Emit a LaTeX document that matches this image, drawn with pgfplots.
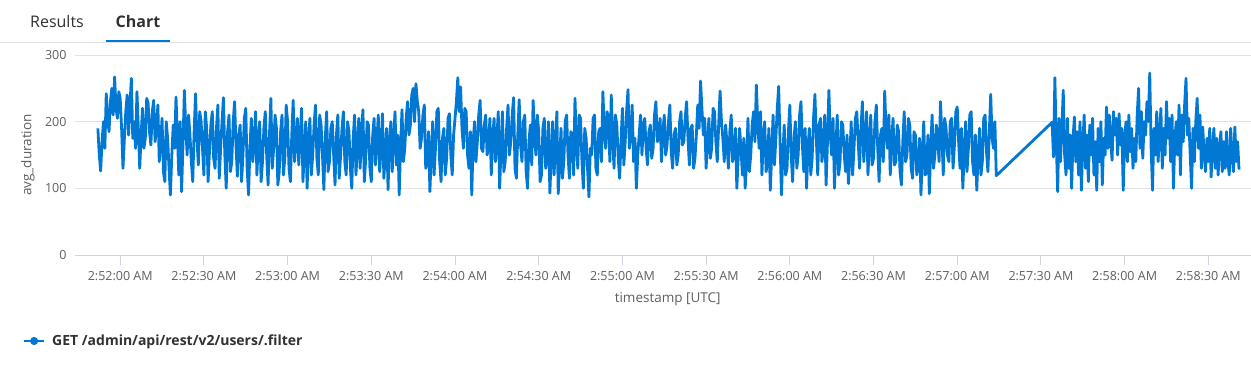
\documentclass[border=0pt]{standalone}
\usepackage{fontspec}
\setmainfont{Open Sans}
\usepackage{pgfplots}
\pgfplotsset{compat=1.18}
\definecolor{azure}{RGB}{0,120,212}
\definecolor{gridgray}{RGB}{226,226,226}
\definecolor{axisblue}{RGB}{204,212,228}
\definecolor{tickgray}{RGB}{96,94,92}
\definecolor{darktext}{RGB}{50,49,48}
\begin{document}
\begin{tikzpicture}[x=1pt,y=1pt]
\useasboundingbox (0,0) rectangle (1251,368);
% header tabs
\draw[gridgray, line width=1pt] (0,325.2) -- (1251,325.2);
\draw[azure, line width=2pt] (106,327.2) -- (170,327.2);
\node[font=\fontsize{16}{18}\selectfont, text=darktext, anchor=base] at (57,340.5) {Results};
\node[font=\fontsize{16}{18}\selectfont\bfseries, text=darktext, anchor=base] at (138,340.5) {Chart};
\begin{axis}[
  at={(75pt,113pt)}, anchor=south west,
  scale only axis, width=1176pt, height=200pt,
  xmin=-16.2, xmax=405.3, ymin=0, ymax=300,
  axis lines*=left,
  y axis line style={draw=none},
  x axis line style={draw=axisblue, line width=1pt, -},
  ytick={0,100,200,300},
  ytick style={draw=none},
  ymajorgrids, grid style={gridgray, line width=1pt},
  xtick={0,30,...,390},
  xticklabels={2:52:00 AM,2:52:30 AM,2:53:00 AM,2:53:30 AM,2:54:00 AM,2:54:30 AM,2:55:00 AM,2:55:30 AM,2:56:00 AM,2:56:30 AM,2:57:00 AM,2:57:30 AM,2:58:00 AM,2:58:30 AM},
  xtick style={draw=axisblue, line width=1pt},
  tick align=outside, major tick length=10pt,
  /pgf/number format/assume math mode=true,
  tick label style={font=\fontsize{12.5}{14}\selectfont, text=tickgray},
  xticklabel style={yshift=-3pt},
  yticklabel style={xshift=5pt},
  xlabel={timestamp [UTC]}, ylabel={avg\_duration},
  every axis x label/.style={at={(axis description cs:0.504,-0.2215)}, anchor=center, font=\fontsize{13.5}{15}\selectfont, text=tickgray},
  every axis y label/.style={at={(axis description cs:-0.04,0.5)}, rotate=90, anchor=center, font=\fontsize{13.5}{15}\selectfont, text=tickgray},
  legend style={at={(axis description cs:-0.0442,-0.43)}, anchor=west, draw=none, fill=none,
    inner sep=0pt, outer sep=0pt, nodes={inner sep=0pt, font=\fontsize{14}{16}\selectfont\bfseries, text=darktext}, column sep=7pt},
  legend cell align=left,
  legend image code/.code={\draw[azure, line width=2.2pt] (0pt,0pt) -- (20pt,0pt); \fill[azure] (10pt,0pt) circle (2.6pt);},
  clip=false,
]
\addplot[azure, line width=2.8pt, line join=round, mark=none] coordinates {
(-8,190)(-7.5,150)(-7,126)(-6.5,170)(-6,200)(-5.5,160)(-5,242)(-4.5,205)(-4,185)(-3.5,230)
(-3,250)(-2.5,210)(-2,267)(-1.5,220)(-1,205)(-0.5,245)(0,235)(0.5,190)(1,130)(1.5,175)
(2,215)(2.5,240)(3,180)(3.5,225)(4,265)(4.5,175)(5,200)(5.5,160)(6,245)(6.5,190)
(7,130)(7.5,180)(8,220)(8.5,160)(9,175)(9.5,235)(10,228)(10.5,185)(11,165)(11.5,215)
(12,232)(12.5,170)(13,190)(13.5,225)(14,140)(14.5,170)(15,205)(15.5,125)(16,110)(16.5,200)
(17,175)(17.5,130)(18,90)(18.5,150)(19,195)(19.5,160)(20,237)(20.5,180)(21,120)(21.5,200)
(22,95)(22.5,165)(23,247)(23.5,190)(24,150)(24.5,210)(25,180)(25.5,140)(26,110)(26.5,185)
(27,242)(27.5,175)(28,135)(28.5,215)(29,200)(29.5,160)(30,120)(30.5,215)(31,190)(31.5,110)
(32,155)(32.5,195)(33,215)(33.5,145)(34,130)(34.5,190)(35,225)(35.5,115)(36,160)(36.5,200)
(37,236)(37.5,150)(38,100)(38.5,185)(39,210)(39.5,125)(40,140)(40.5,200)(41,230)(41.5,165)
(42,118)(42.5,180)(43,195)(43.5,110)(44,150)(44.5,205)(45,220)(45.5,130)(46,90)(46.5,160)
(47,205)(47.5,140)(48,165)(48.5,215)(49,120)(49.5,170)(50,200)(50.5,110)(51,140)(51.5,190)
(52,215)(52.5,150)(53,105)(53.5,180)(54,235)(54.5,130)(55,160)(55.5,210)(56,190)(56.5,105)
(57,125)(57.5,185)(58,210)(58.5,120)(59,145)(59.5,225)(60,200)(60.5,130)(61,110)(61.5,180)
(62,232)(62.5,140)(63,170)(63.5,205)(64,135)(64.5,175)(65,220)(65.5,110)(66,155)(66.5,200)
(67,100)(67.5,170)(68,205)(68.5,120)(69,150)(69.5,195)(70,225)(70.5,145)(71,120)(71.5,210)
(72,195)(72.5,150)(73,98)(73.5,175)(74,215)(74.5,125)(75,140)(75.5,190)(76,200)(76.5,150)
(77,105)(77.5,180)(78,210)(78.5,115)(79,150)(79.5,190)(80,215)(80.5,140)(81,120)(81.5,200)
(82,185)(82.5,130)(83,100)(83.5,175)(84,210)(84.5,120)(85,160)(85.5,205)(86,130)(86.5,185)
(87,218)(87.5,110)(88,145)(88.5,200)(89,195)(89.5,130)(90,110)(90.5,180)(91,205)(91.5,135)
(92,170)(92.5,210)(93,125)(93.5,160)(94,212)(94.5,115)(95,150)(95.5,190)(96,98)(96.5,170)
(97,200)(97.5,125)(98,175)(98.5,215)(99,135)(99.5,180)(100,90)(100.5,165)(101,218)(101.5,140)
(102,160)(102.5,205)(103,230)(103.5,180)(104,195)(104.5,240)(105,250)(105.5,200)(106,257)(106.5,230)
(107,215)(107.5,160)(108,175)(108.5,210)(109,225)(109.5,130)(110,140)(110.5,185)(111,95)(111.5,150)
(112,200)(112.5,120)(113,160)(113.5,215)(114,220)(114.5,140)(115,110)(115.5,175)(116,190)(116.5,120)
(117,145)(117.5,205)(118,212)(118.5,150)(119,120)(119.5,180)(120,205)(120.5,230)(121,266)(121.5,215)
(122,252)(122.5,190)(123,160)(123.5,220)(124,215)(124.5,150)(125,130)(125.5,185)(126,90)(126.5,170)
(127,200)(127.5,140)(128,170)(128.5,210)(129,232)(129.5,160)(130,155)(130.5,195)(131,210)(131.5,150)
(132,160)(132.5,205)(133,120)(133.5,175)(134,205)(134.5,140)(135,175)(135.5,215)(136,100)(136.5,160)
(137,215)(137.5,125)(138,140)(138.5,190)(139,225)(139.5,150)(140,170)(140.5,210)(141,236)(141.5,130)
(142,115)(142.5,180)(143,233)(143.5,165)(144,140)(144.5,200)(145,210)(145.5,125)(146,100)(146.5,170)
(147,195)(147.5,135)(148,232)(148.5,180)(149,150)(149.5,210)(150,185)(150.5,110)(151,120)(151.5,190)
(152,205)(152.5,130)(153,145)(153.5,200)(154,93)(154.5,150)(155,200)(155.5,120)(156,160)(156.5,215)
(157,92)(157.5,140)(158,190)(158.5,115)(159,140)(159.5,200)(160,210)(160.5,150)(161,115)(161.5,185)
(162,180)(162.5,120)(163,235)(163.5,170)(164,130)(164.5,210)(165,205)(165.5,140)(166,100)(166.5,190)
(167,175)(167.5,130)(168,87)(168.5,160)(169,150)(169.5,205)(170,210)(170.5,130)(171,120)(171.5,185)
(172,190)(172.5,140)(173,245)(173.5,190)(174,160)(174.5,215)(175,205)(175.5,140)(176,240)(176.5,175)
(177,130)(177.5,210)(178,195)(178.5,145)(179,115)(179.5,170)(180,220)(180.5,135)(181,170)(181.5,215)
(182,248)(182.5,160)(183,185)(183.5,225)(184,140)(184.5,175)(185,100)(185.5,150)(186,180)(186.5,210)
(187,150)(187.5,195)(188,205)(188.5,160)(189,135)(189.5,185)(190,195)(190.5,145)(191,160)(191.5,210)
(192,230)(192.5,170)(193,175)(193.5,205)(194,140)(194.5,185)(195,210)(195.5,150)(196,165)(196.5,200)
(197,225)(197.5,155)(198,130)(198.5,180)(199,190)(199.5,135)(200,150)(200.5,200)(201,215)(201.5,165)
(202,170)(202.5,205)(203,230)(203.5,175)(204,135)(204.5,190)(205,195)(205.5,130)(206,145)(206.5,180)
(207,225)(207.5,190)(208,261)(208.5,220)(209,180)(209.5,205)(210,130)(210.5,170)(211,205)(211.5,145)
(212,160)(212.5,220)(213,215)(213.5,170)(214,140)(214.5,195)(215,246)(215.5,200)(216,175)(216.5,140)
(217,195)(217.5,165)(218,130)(218.5,185)(219,210)(219.5,140)(220,150)(220.5,190)(221,100)(221.5,145)
(222,190)(222.5,160)(223,120)(223.5,175)(224,100)(224.5,140)(225,205)(225.5,125)(226,150)(226.5,195)
(227,215)(227.5,170)(228,255)(228.5,200)(229,160)(229.5,215)(230,120)(230.5,175)(231,200)(231.5,125)
(232,140)(232.5,190)(233,97)(233.5,150)(234,210)(234.5,135)(235,175)(235.5,220)(236,253)(236.5,170)
(237,90)(237.5,150)(238,195)(238.5,120)(239,130)(239.5,185)(240,225)(240.5,150)(241,110)(241.5,175)
(242,200)(242.5,130)(243,150)(243.5,210)(244,230)(244.5,165)(245,125)(245.5,190)(246,100)(246.5,160)
(247,190)(247.5,120)(248,145)(248.5,205)(249,241)(249.5,175)(250,120)(250.5,195)(251,205)(251.5,140)
(252,160)(252.5,210)(253,105)(253.5,170)(254,247)(254.5,180)(255,150)(255.5,205)(256,100)(256.5,160)
(257,210)(257.5,120)(258,140)(258.5,200)(259,195)(259.5,150)(260,125)(260.5,180)(261,107)(261.5,145)
(262,200)(262.5,120)(263,160)(263.5,205)(264,215)(264.5,170)(265,130)(265.5,190)(266,230)(266.5,140)
(267,175)(267.5,215)(268,120)(268.5,165)(269,210)(269.5,135)(270,145)(270.5,200)(271,225)(271.5,160)
(272,110)(272.5,180)(273,190)(273.5,140)(274,246)(274.5,185)(275,160)(275.5,210)(276,120)(276.5,170)
(277,205)(277.5,135)(278,140)(278.5,195)(279,185)(279.5,125)(280,105)(280.5,170)(281,215)(281.5,140)
(282,150)(282.5,205)(283,195)(283.5,130)(284,115)(284.5,185)(285,180)(285.5,120)(286,135)(286.5,175)
(287,90)(287.5,150)(288,200)(288.5,120)(289,125)(289.5,180)(290,92)(290.5,160)(291,210)(291.5,130)
(292,150)(292.5,195)(293,175)(293.5,140)(294,230)(294.5,180)(295,120)(295.5,205)(296,190)(296.5,150)
(297,140)(297.5,200)(298,205)(298.5,130)(299,165)(299.5,215)(300,222)(300.5,170)(301,130)(301.5,190)
(302,100)(302.5,150)(303,200)(303.5,125)(304,160)(304.5,210)(305,215)(305.5,140)(306,120)(306.5,180)
(307,97)(307.5,150)(308,190)(308.5,120)(309,140)(309.5,205)(310,210)(310.5,155)(311,125)(311.5,185)
(312,241)(312.5,175)(313,160)(313.5,200)(314,119)
(334,199)(334.5,147)(335,266)(335.5,170)(336,95)(336.5,205)(337,140)(337.5,190)(338,247)(338.5,150)
(339,120)(339.5,205)(340,130)(340.5,180)(341,100)(341.5,175)(342,207)(342.5,140)(343,185)(343.5,120)
(344,200)(344.5,97)(345,165)(345.5,210)(346,130)(346.5,180)(347,110)(347.5,195)(348,150)(348.5,205)
(349,120)(349.5,170)(350,97)(350.5,190)(351,140)(351.5,200)(352,105)(352.5,175)(353,150)(353.5,222)
(354,160)(354.5,210)(355,170)(355.5,142)(356,215)(356.5,180)(357,205)(357.5,150)(358,212)(358.5,165)
(359,190)(359.5,97)(360,175)(360.5,200)(361,140)(361.5,210)(362,155)(362.5,190)(363,130)(363.5,175)
(364,140)(364.5,210)(365,250)(365.5,160)(366,215)(366.5,145)(367,200)(367.5,180)(368,230)(368.5,200)
(369,273)(369.5,160)(370,97)(370.5,190)(371,150)(371.5,215)(372,140)(372.5,180)(373,220)(373.5,130)
(374,190)(374.5,150)(375,230)(375.5,175)(376,205)(376.5,140)(377,210)(377.5,100)(378,175)(378.5,200)
(379,150)(379.5,225)(380,120)(380.5,210)(381,170)(381.5,225)(382,265)(382.5,180)(383,205)(383.5,150)
(384,100)(384.5,190)(385,140)(385.5,200)(386,235)(386.5,160)(387,210)(387.5,130)(388,192)(388.5,150)
(389,125)(389.5,175)(390,140)(390.5,190)(391,117)(391.5,160)(392,190)(392.5,130)(393,175)(393.5,120)
(394,160)(394.5,185)(395,125)(395.5,170)(396,130)(396.5,185)(397,140)(397.5,120)(398,190)(398.5,150)
(399,125)(399.5,192)(400,140)(400.5,170)(401,128)
};
\addlegendentry{GET /admin/api/rest/v2/users/.filter}
\end{axis}
\end{tikzpicture}
\end{document}
